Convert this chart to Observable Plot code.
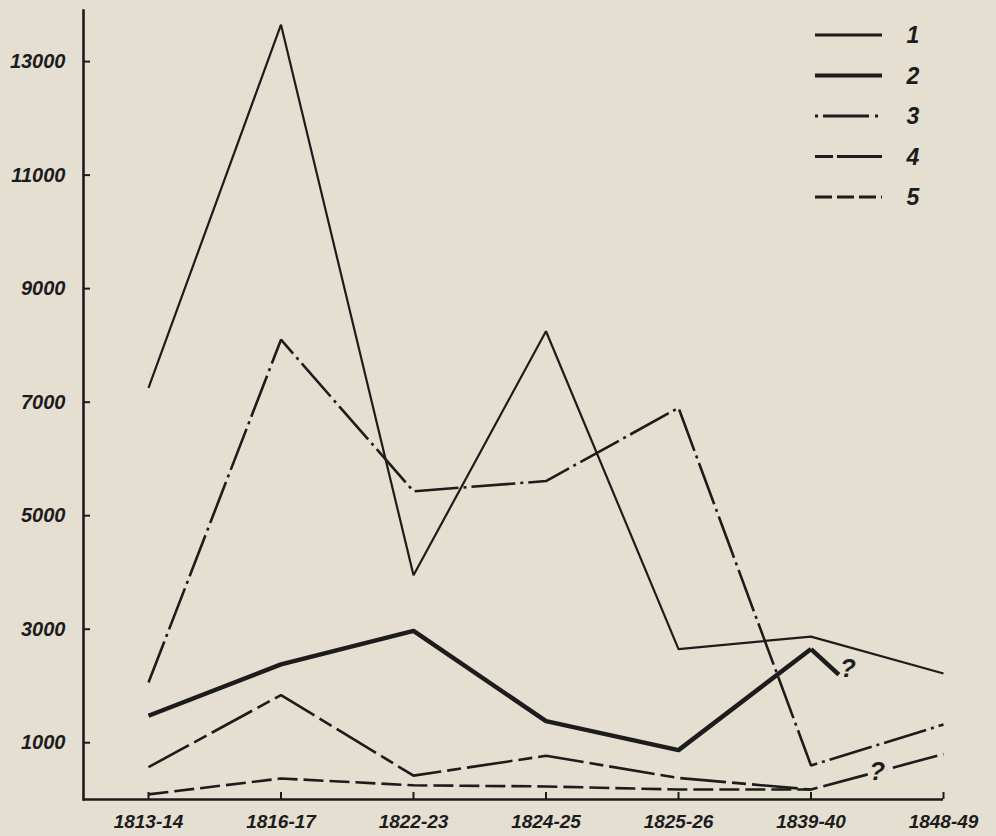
<!DOCTYPE html>
<html>
<head>
<meta charset="utf-8">
<script src="https://cdn.jsdelivr.net/npm/d3@7"></script>
<script src="https://cdn.jsdelivr.net/npm/@observablehq/plot@0.6"></script>
<style>
  html, body { margin: 0; padding: 0; background: #e4dfd1; }
  #chart { position: relative; width: 996px; height: 836px; overflow: hidden; }
  #chart svg { position: absolute; left: 0; top: 0; }
</style>
</head>
<body>
<div id="chart"></div>
<script>
// ---- data ----
const periods = ["1813-14", "1816-17", "1822-23", "1824-25", "1825-26", "1839-40", "1848-49"];
const series1 = [7250, 13650, 3950, 8250, 2650, 2870, 2220];
const series2 = [1475, 2380, 2970, 1380, 870, 2650, null];
const series3 = [2060, 8100, 5430, 5610, 6900, 600, 1320];
const series4 = [570, 1840, 420, 770, 380, 175, 800];
const series5 = [90, 370, 250, 230, 175, 175, null];
// uncertain continuation of series 2 after 1839-40 (short stub, marked "?")
const series2Tail = [{i: 5, v: 2650}, {i: 5.21, v: 2200}];
const yTicks = [1000, 3000, 5000, 7000, 9000, 11000, 13000];
const legendLabels = ["1", "2", "3", "4", "5"];

// ---- styles ----
const ink = "#1c1c1c";
const paper = "#e4dfd1";
const styles = [
  {strokeWidth: 2.2, dash: null, join: "miter"},
  {strokeWidth: 4.5, dash: null, join: "round"},
  {strokeWidth: 2.6, dash: "44,5,3,5", join: "miter"},
  {strokeWidth: 2.6, dash: "46,6,14,6", join: "miter"},
  {strokeWidth: 2.6, dash: "20,6", join: "miter"}
];

const allSeries = [series1, series2, series3, series4, series5];
const rows = [];
allSeries.forEach((vals, s) => vals.forEach((v, i) => { if (v != null) rows.push({s, i, v}); }));

const lineMarks = allSeries.map((_, s) => Plot.line(rows.filter(d => d.s === s), {
  x: "i", y: "v", stroke: ink,
  strokeWidth: styles[s].strokeWidth,
  strokeDasharray: styles[s].dash,
  strokeLinejoin: styles[s].join,
  strokeLinecap: "butt"
}));

const q4 = [{i: 5.5, v: (series4[5] + series4[6]) / 2}];
const q2 = [series2Tail[1]];

const plot = Plot.plot({
  width: 996,
  height: 836,
  marginLeft: 83,
  marginRight: 53,
  marginTop: 10,
  marginBottom: 37,
  style: {background: "transparent", color: ink, fontFamily: "'Liberation Sans', Arial, sans-serif", fontStyle: "italic", fontWeight: "bold"},
  x: {type: "linear", domain: [0, periods.length - 1], insetLeft: 65},
  y: {domain: [0, 13900]},
  marks: [
    ...lineMarks,
    Plot.line(series2Tail, {x: "i", y: "v", stroke: ink, strokeWidth: styles[1].strokeWidth, strokeLinecap: "butt"}),
    Plot.text(q4, {x: "i", y: "v", text: () => "?", fontSize: 26, fill: ink, stroke: paper, strokeWidth: 7, paintOrder: "stroke"}),
    Plot.text(q2, {x: "i", y: "v", text: () => "?", fontSize: 26, fill: ink, dx: 9, dy: -6}),
    Plot.ruleY([0], {stroke: ink, strokeWidth: 2.6}),
    Plot.frame({anchor: "left", stroke: ink, strokeWidth: 2.6}),
    Plot.axisY({ticks: yTicks, tickSize: -7, tickPadding: 25, strokeWidth: 2, fontSize: 20, tickFormat: d => String(d), label: null}),
    Plot.axisX({ticks: d3.range(periods.length), tickSize: -7, tickPadding: 22, strokeWidth: 2, fontSize: 19, tickFormat: i => periods[i], label: null})
  ]
});

const chart = document.getElementById("chart");
chart.appendChild(plot);

// ---- legend (top right) ----
const leg = d3.select(chart).append("svg")
  .attr("width", 996).attr("height", 230)
  .style("font-family", "'Liberation Sans', Arial, sans-serif")
  .style("font-style", "italic").style("font-weight", "bold");
const legendDash = [null, null, "3,5,46,6", "18,4,46", "17,5"];
const legendTop = 35, legendStep = 40.5;
legendLabels.forEach((lab, k) => {
  const y = legendTop + k * legendStep;
  leg.append("line")
    .attr("x1", 815).attr("x2", 882).attr("y1", y).attr("y2", y)
    .attr("stroke", ink)
    .attr("stroke-width", k === 1 ? 4.2 : 2.8)
    .attr("stroke-dasharray", legendDash[k]);
  leg.append("text")
    .attr("x", 913).attr("y", y).attr("dy", "0.35em")
    .attr("text-anchor", "middle").attr("font-size", 23).attr("fill", ink)
    .text(lab);
});
</script>
</body>
</html>
